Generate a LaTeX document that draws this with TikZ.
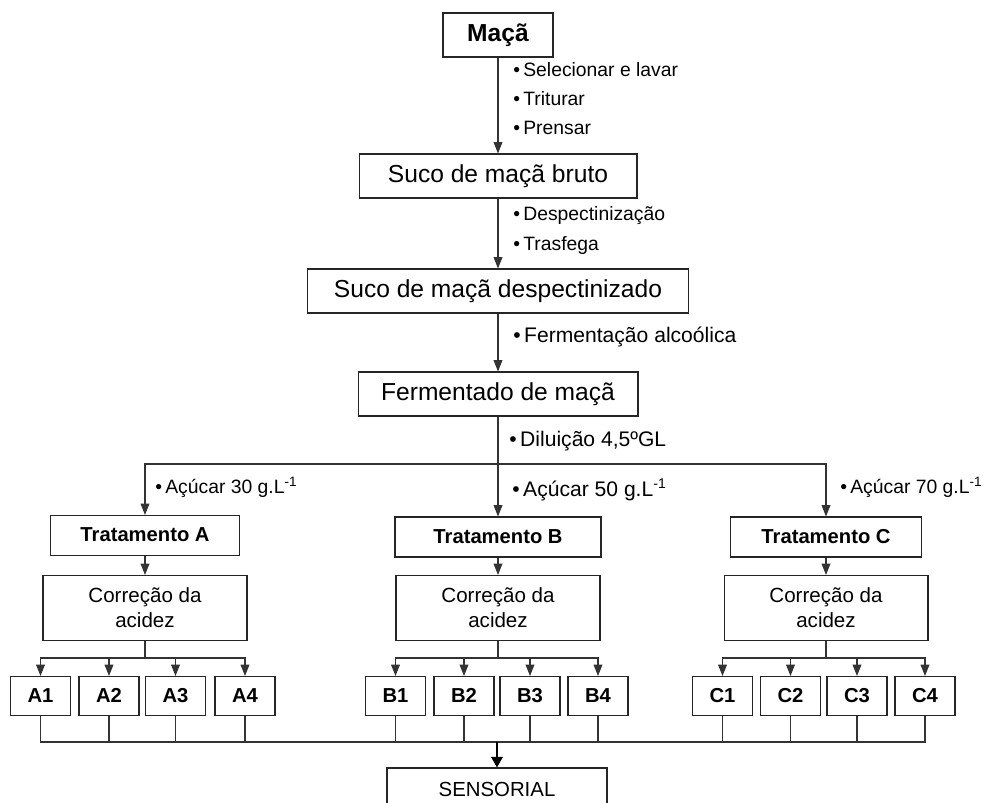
\documentclass[tikz,border=0pt]{standalone}
\usepackage{fontspec}
\setmainfont{Liberation Sans}
\usetikzlibrary{positioning}
\usetikzlibrary{arrows.meta}

\tikzset{
 box/.style={draw=black!85, line width=0.6pt, inner sep=0pt, text height=1.4ex, text depth=0pt, minimum height=0.88cm, font=\fontsize{14}{16}\selectfont},
 trat/.style={box, minimum height=0.8cm, font=\fontsize{11.5}{13}\selectfont\bfseries},
 corr/.style={box, text height=, text depth=, minimum width=4.08cm, minimum height=1.3cm, align=center, font=\fontsize{11.7}{14.2}\selectfont},
 amostra/.style={box, minimum width=1.2cm, minimum height=0.78cm, font=\fontsize{11.5}{13}\selectfont\bfseries},
 etapa/.style={anchor=west, inner sep=0pt, font=\fontsize{11}{13}\selectfont},
 etapag/.style={etapa, font=\fontsize{12}{14}\selectfont},
 seta/.style={draw=black!80, line width=0.6pt, -{Triangle[length=6.5pt,width=5pt]}},
 liga/.style={draw=black!80, line width=0.6pt},
 setag/.style={draw=black, line width=1.1pt, -{Triangle[length=6pt,width=6.5pt]}}
}

\begin{document}
\begin{tikzpicture}[x=0.02cm, y=-0.02cm]

\useasboundingbox (0,0) rectangle (994,803);

% etapas principais
\node[box, minimum width=2.2cm, font=\fontsize{14}{16}\selectfont\bfseries] (maca) at (498,35) {Maçã};
\node[box, minimum width=5.56cm] (bruto) at (498,176) {Suco de maçã bruto};
\node[box, minimum width=7.64cm] (despec) at (498,291) {Suco de maçã despectinizado};
\node[box, minimum width=5.6cm] (ferm) at (498,394) {Fermentado de maçã};

\node[etapa] (selec) at (513,70) {•\,Selecionar e lavar};
\node[etapa] (trit) at (513,99) {•\,Triturar};
\node[etapa] (prens) at (513,128) {•\,Prensar};
\node[etapa] (despc) at (513,216) {•\,Despectinização};
\node[etapa] (trasf) at (513,246) {•\,Trasfega};
\node[etapag] (alcool) at (513,337) {•\,Fermentação alcoólica};
\node[etapag] (dil) at (509,441) {•\,Diluição 4,5ºGL};

\draw[seta] (maca) -- (bruto);
\draw[seta] (bruto) -- (despec);
\draw[seta] (despec) -- (ferm);

% tratamentos
\coordinate (split) at (498,464);

\node[trat, minimum width=3.78cm] (tratA) at (145,535.5) {Tratamento A};
\node[trat, minimum width=4.12cm] (tratB) at (498,537) {Tratamento B};
\node[trat, minimum width=3.82cm] (tratC) at (826,537) {Tratamento C};

\node[etapa] (acA) at (155,487) {•\,Açúcar 30 g.L\textsuperscript{-1}};
\node[etapag] (acB) at (512,490) {•\,Açúcar 50 g.L\textsuperscript{-1}};
\node[etapa] (acC) at (840,487) {•\,Açúcar 70 g.L\textsuperscript{-1}};

\draw[seta] (ferm) -- (tratB);
\draw[seta] (split) -| (tratA);
\draw[seta] (split) -| (tratC);

\node[corr] (corrA) at (145,608) {Correção da\\acidez};
\node[corr] (corrB) at (498,608) {Correção da\\acidez};
\node[corr] (corrC) at (826,608) {Correção da\\acidez};

\draw[seta] (tratA) -- (corrA);
\draw[seta] (tratB) -- (corrB);
\draw[seta] (tratC) -- (corrC);

% amostras
\node[amostra] (A1) at (40.5,696) {A1};
\node[amostra] (A2) at (109,696) {A2};
\node[amostra] (A3) at (175.5,696) {A3};
\node[amostra] (A4) at (245,696) {A4};

\node[amostra] (B1) at (395.5,696) {B1};
\node[amostra] (B2) at (464,696) {B2};
\node[amostra] (B3) at (530,696) {B3};
\node[amostra] (B4) at (598,696) {B4};

\node[amostra] (C1) at (722.5,696) {C1};
\node[amostra] (C2) at (790.5,696) {C2};
\node[amostra] (C3) at (857,696) {C3};
\node[amostra] (C4) at (925,696) {C4};

\coordinate (barA) at (145,658);
\coordinate (barB) at (498,658);
\coordinate (barC) at (826,658);

\draw[liga] (corrA) -- (barA);
\draw[seta] (barA) -| (A1);
\draw[seta] (barA) -| (A2);
\draw[seta] (barA) -| (A3);
\draw[seta] (barA) -| (A4);

\draw[liga] (corrB) -- (barB);
\draw[seta] (barB) -| (B1);
\draw[seta] (barB) -| (B2);
\draw[seta] (barB) -| (B3);
\draw[seta] (barB) -| (B4);

\draw[liga] (corrC) -- (barC);
\draw[seta] (barC) -| (C1);
\draw[seta] (barC) -| (C2);
\draw[seta] (barC) -| (C3);
\draw[seta] (barC) -| (C4);

% sensorial
\node[box, minimum width=4.4cm, font=\fontsize{11.6}{13}\selectfont] (sens) at (497,790) {SENSORIAL};
\coordinate (bot) at (497,742);

\draw[liga] (A1) |- (bot);
\draw[liga] (A2) |- (bot);
\draw[liga] (A3) |- (bot);
\draw[liga] (A4) |- (bot);
\draw[liga] (B1) |- (bot);
\draw[liga] (B2) |- (bot);
\draw[liga] (B3) |- (bot);
\draw[liga] (B4) |- (bot);
\draw[liga] (C1) |- (bot);
\draw[liga] (C2) |- (bot);
\draw[liga] (C3) |- (bot);
\draw[liga] (C4) |- (bot);

\draw[setag] (bot) -- (sens);

\end{tikzpicture}
\end{document}
